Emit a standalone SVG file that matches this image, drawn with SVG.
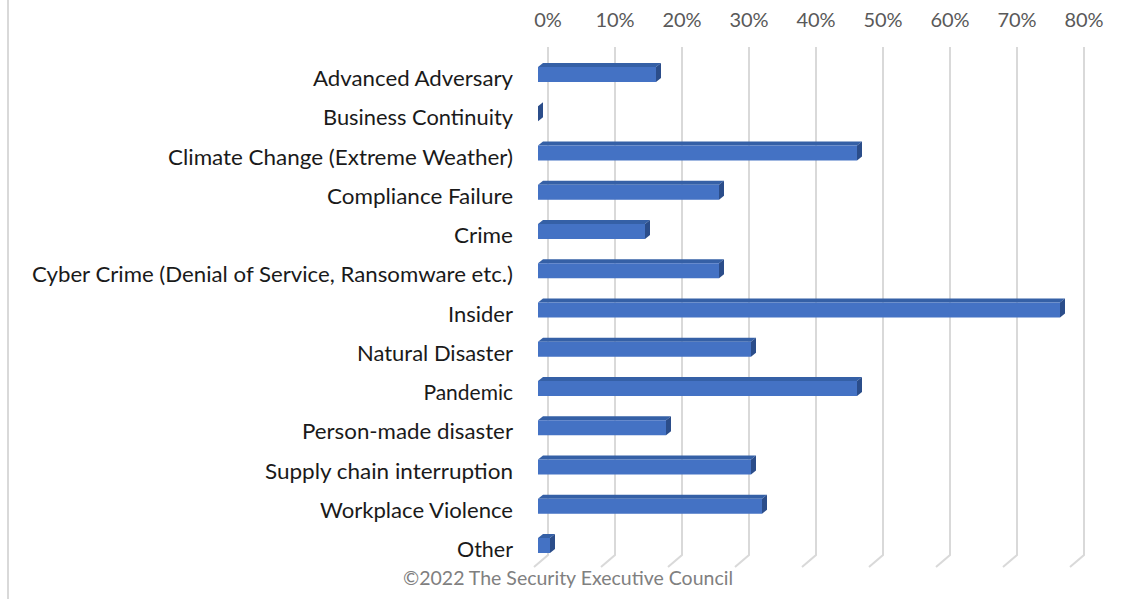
<svg xmlns="http://www.w3.org/2000/svg" width="1129" height="599" viewBox="0 0 1129 599">
<style>
.bg{fill:#ffffff}
.grid{stroke:#d9d9d9;stroke-width:2;fill:none}
.tick{font-family:Lato,"Liberation Sans",sans-serif;font-size:20px;fill:#595959;text-anchor:middle}
.lbl{font-family:Lato,"Liberation Sans",sans-serif;font-size:21px;fill:#1a1a1a;text-anchor:end}
.copy{font-family:Lato,"Liberation Sans",sans-serif;font-size:20px;fill:#808080;text-anchor:middle}
.front{fill:#4472c4}
.top{fill:#3560a6}
.side{fill:#2b4d8a}
</style>
<rect class="bg" x="0" y="0" width="1129" height="599"/>
<line class="grid" x1="8" y1="0" x2="8" y2="599"/>
<g id="gridlines">
<path class="grid" d="M548,47V555L534,567"/>
<path class="grid" d="M615,47V555L601,567"/>
<path class="grid" d="M682,47V555L668,567"/>
<path class="grid" d="M749,47V555L735,567"/>
<path class="grid" d="M816,47V555L802,567"/>
<path class="grid" d="M883,47V555L869,567"/>
<path class="grid" d="M950,47V555L936,567"/>
<path class="grid" d="M1017,47V555L1003,567"/>
<path class="grid" d="M1084,47V555L1070,567"/>
</g>
<g id="axis">
<text class="tick" x="548" y="27">0%</text>
<text class="tick" x="615" y="27">10%</text>
<text class="tick" x="682" y="27">20%</text>
<text class="tick" x="749" y="27">30%</text>
<text class="tick" x="816" y="27">40%</text>
<text class="tick" x="883" y="27">50%</text>
<text class="tick" x="950" y="27">60%</text>
<text class="tick" x="1017" y="27">70%</text>
<text class="tick" x="1084" y="27">80%</text>
</g>
<g id="row1"><text class="lbl" x="513" y="86" textLength="200" lengthAdjust="spacingAndGlyphs">Advanced Adversary</text>
<polygon class="top" points="538,67 543,63 661,63 656,67"/><rect class="front" x="538" y="67" width="118" height="15"/><polygon class="side" points="656,67 661,63 661,78 656,82"/></g>
<g id="row2"><text class="lbl" x="513" y="125.25" textLength="190" lengthAdjust="spacingAndGlyphs">Business Continuity</text>
<polygon class="side" points="538,106.25 543,102.25 543,117.25 538,121.25"/></g>
<g id="row3"><text class="lbl" x="513" y="164.5" textLength="345" lengthAdjust="spacingAndGlyphs">Climate Change (Extreme Weather)</text>
<polygon class="top" points="538,145.5 543,141.5 862,141.5 857,145.5"/><rect class="front" x="538" y="145.5" width="319" height="15"/><polygon class="side" points="857,145.5 862,141.5 862,156.5 857,160.5"/></g>
<g id="row4"><text class="lbl" x="513" y="203.75" textLength="186" lengthAdjust="spacingAndGlyphs">Compliance Failure</text>
<polygon class="top" points="538,184.75 543,180.75 724,180.75 719,184.75"/><rect class="front" x="538" y="184.75" width="181" height="15"/><polygon class="side" points="719,184.75 724,180.75 724,195.75 719,199.75"/></g>
<g id="row5"><text class="lbl" x="513" y="243" textLength="59" lengthAdjust="spacingAndGlyphs">Crime</text>
<polygon class="top" points="538,224 543,220 650,220 645,224"/><rect class="front" x="538" y="224" width="107" height="15"/><polygon class="side" points="645,224 650,220 650,235 645,239"/></g>
<g id="row6"><text class="lbl" x="513" y="282.25" textLength="481" lengthAdjust="spacingAndGlyphs">Cyber Crime (Denial of Service, Ransomware etc.)</text>
<polygon class="top" points="538,263.25 543,259.25 724,259.25 719,263.25"/><rect class="front" x="538" y="263.25" width="181" height="15"/><polygon class="side" points="719,263.25 724,259.25 724,274.25 719,278.25"/></g>
<g id="row7"><text class="lbl" x="513" y="321.5" textLength="65" lengthAdjust="spacingAndGlyphs">Insider</text>
<polygon class="top" points="538,302.5 543,298.5 1065,298.5 1060,302.5"/><rect class="front" x="538" y="302.5" width="522" height="15"/><polygon class="side" points="1060,302.5 1065,298.5 1065,313.5 1060,317.5"/></g>
<g id="row8"><text class="lbl" x="513" y="360.75" textLength="156" lengthAdjust="spacingAndGlyphs">Natural Disaster</text>
<polygon class="top" points="538,341.75 543,337.75 756,337.75 751,341.75"/><rect class="front" x="538" y="341.75" width="213" height="15"/><polygon class="side" points="751,341.75 756,337.75 756,352.75 751,356.75"/></g>
<g id="row9"><text class="lbl" x="513" y="400">Pandemic</text>
<polygon class="top" points="538,381 543,377 862,377 857,381"/><rect class="front" x="538" y="381" width="319" height="15"/><polygon class="side" points="857,381 862,377 862,392 857,396"/></g>
<g id="row10"><text class="lbl" x="513" y="439.25" textLength="211" lengthAdjust="spacingAndGlyphs">Person-made disaster</text>
<polygon class="top" points="538,420.25 543,416.25 671,416.25 666,420.25"/><rect class="front" x="538" y="420.25" width="128" height="15"/><polygon class="side" points="666,420.25 671,416.25 671,431.25 666,435.25"/></g>
<g id="row11"><text class="lbl" x="513" y="478.5" textLength="248" lengthAdjust="spacingAndGlyphs">Supply chain interruption</text>
<polygon class="top" points="538,459.5 543,455.5 756,455.5 751,459.5"/><rect class="front" x="538" y="459.5" width="213" height="15"/><polygon class="side" points="751,459.5 756,455.5 756,470.5 751,474.5"/></g>
<g id="row12"><text class="lbl" x="513" y="517.75" textLength="193" lengthAdjust="spacingAndGlyphs">Workplace Violence</text>
<polygon class="top" points="538,498.75 543,494.75 767,494.75 762,498.75"/><rect class="front" x="538" y="498.75" width="224" height="15"/><polygon class="side" points="762,498.75 767,494.75 767,509.75 762,513.75"/></g>
<g id="row13"><text class="lbl" x="513" y="557" textLength="56" lengthAdjust="spacingAndGlyphs">Other</text>
<polygon class="top" points="538,538 543,534 555,534 550,538"/><rect class="front" x="538" y="538" width="12" height="15"/><polygon class="side" points="550,538 555,534 555,549 550,553"/></g>
<text id="copyright" class="copy" x="568" y="585" textLength="330" lengthAdjust="spacingAndGlyphs">©2022 The Security Executive Council</text>
</svg>
